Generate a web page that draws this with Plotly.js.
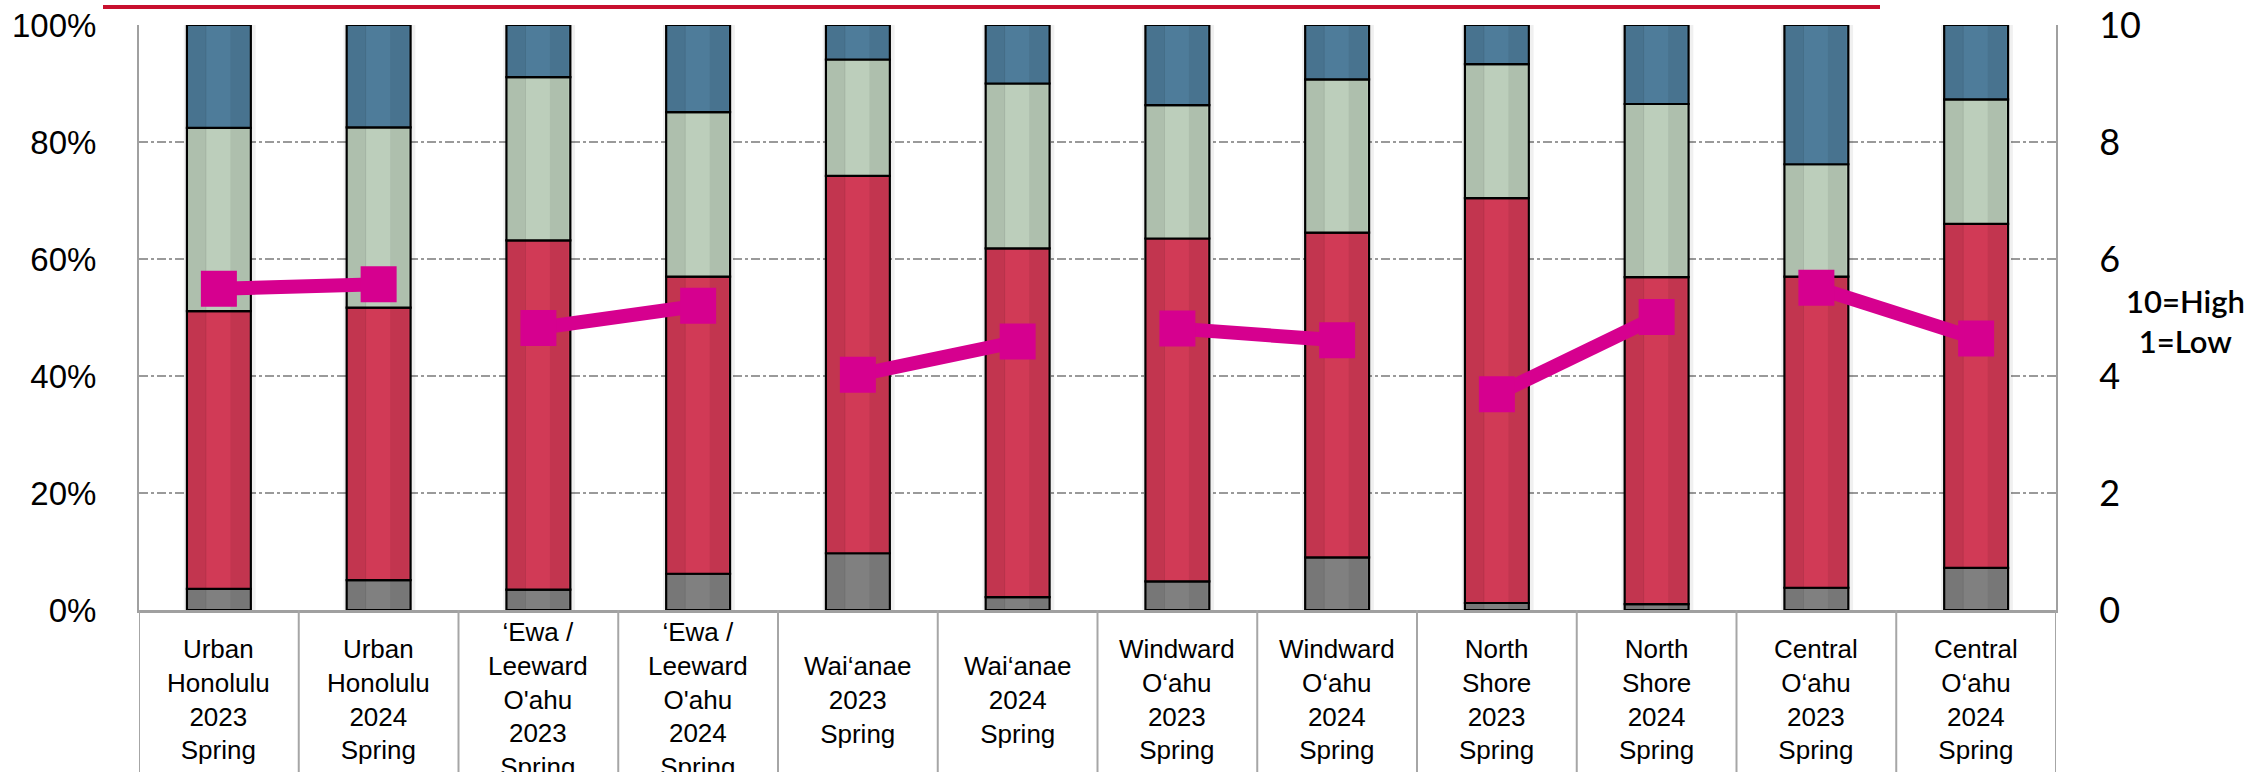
<!DOCTYPE html>
<html>
<head>
<meta charset="utf-8">
<script src="https://cdn.plot.ly/plotly-3.0.1.min.js"></script>
<style>html,body{margin:0;padding:0;background:#fff;}#chart{width:2248px;height:772px;}</style>
</head>
<body>
<div id="chart"></div>
<script>
// Categories (x)
const categories = [
  "Urban<br>Honolulu<br>2023<br>Spring",
  "Urban<br>Honolulu<br>2024<br>Spring",
  "‘Ewa /<br>Leeward<br>O'ahu<br>2023<br>Spring",
  "‘Ewa /<br>Leeward<br>O'ahu<br>2024<br>Spring",
  "Wai‘anae<br>2023<br>Spring",
  "Wai‘anae<br>2024<br>Spring",
  "Windward<br>O‘ahu<br>2023<br>Spring",
  "Windward<br>O‘ahu<br>2024<br>Spring",
  "North<br>Shore<br>2023<br>Spring",
  "North<br>Shore<br>2024<br>Spring",
  "Central<br>O‘ahu<br>2023<br>Spring",
  "Central<br>O‘ahu<br>2024<br>Spring"
];

// Stacked shares (fractions), bottom to top
const grayShare  = [0.036, 0.051, 0.035, 0.062, 0.097, 0.022, 0.049, 0.090, 0.012, 0.010, 0.038, 0.072];
const redShare   = [0.475, 0.466, 0.597, 0.508, 0.645, 0.596, 0.586, 0.555, 0.692, 0.559, 0.532, 0.588];
const greenShare = [0.313, 0.308, 0.279, 0.281, 0.199, 0.282, 0.228, 0.262, 0.229, 0.296, 0.192, 0.213];
const blueShare  = [0.176, 0.175, 0.089, 0.149, 0.059, 0.100, 0.137, 0.093, 0.067, 0.135, 0.238, 0.127];

// Average score (right axis, 10=High, 1=Low)
const scoreValues = [5.49, 5.57, 4.82, 5.20, 4.02, 4.59, 4.81, 4.61, 3.69, 5.01, 5.51, 4.64];

const leftTicks = [0, 0.2, 0.4, 0.6, 0.8, 1.0];
const rightTicks = [0, 2, 4, 6, 8, 10];

const idx = categories.map((_, i) => i);
const series = [
  {vals: grayShare, color: '#808080'},
  {vals: redShare, color: '#d13a56'},
  {vals: greenShare, color: '#bccebb'},
  {vals: blueShare, color: '#4e7c9a'}
];

const BW = 0.4; // bar width in category units
const totals = idx.map(i => series.reduce((s, r) => s + r.vals[i], 0));

const traces = [];
// soft shadow behind bars
traces.push({
  type: 'bar', x: idx, y: totals, base: 0, width: BW + 0.05, offset: -BW / 2 - 0.02,
  marker: {color: 'rgba(0,0,0,0.06)', line: {width: 0}}, hoverinfo: 'skip', showlegend: false
});
// stacked segments (manual bases, overlay mode)
let cum = idx.map(() => 0);
series.forEach(s => {
  traces.push({
    type: 'bar', x: idx, y: s.vals, base: cum.slice(), width: BW, offset: -BW / 2,
    marker: {color: s.color, line: {color: '#000000', width: 2.2}},
    hoverinfo: 'skip', showlegend: false
  });
  cum = cum.map((c, i) => c + s.vals[i]);
});
// subtle vertical shading bands on each bar
[[0.02, 0.28, 'rgba(0,0,0,0.07)'], [0.29, 0.015, 'rgba(0,0,0,0.08)'], [0.68, 0.29, 'rgba(0,0,0,0.07)']].forEach(b => {
  traces.push({
    type: 'bar', x: idx, y: totals, base: 0, width: BW * b[1], offset: -BW / 2 + BW * b[0],
    marker: {color: b[2], line: {width: 0}}, hoverinfo: 'skip', showlegend: false
  });
});

// Score line: connect each 2023/2024 pair
for (let i = 0; i < scoreValues.length; i += 2) {
  traces.push({
    type: 'scatter', mode: 'lines+markers',
    x: idx.slice(i, i + 2), y: scoreValues.slice(i, i + 2),
    yaxis: 'y2',
    line: {color: '#d6008f', width: 14},
    marker: {symbol: 'square', size: 36, color: '#d6008f'},
    hoverinfo: 'skip', showlegend: false, cliponaxis: false
  });
}

const plotLeft = 139, plotRight = 2056, plotTop = 25, plotBottom = 610;
const pw = plotRight - plotLeft, ph = plotBottom - plotTop;

const annotations = categories.map((c, i) => ({
  x: i, xref: 'x', y: -0.153, yref: 'paper',
  text: c, showarrow: false, xanchor: 'center', yanchor: 'middle', align: 'center',
  font: {family: 'Liberation Sans, Arial, sans-serif', size: 26, color: '#000'}
}));
annotations.push({
  x: (2185 - plotLeft) / pw, xref: 'paper', y: (plotBottom - 321) / ph, yref: 'paper',
  text: '10=High<br>1=Low', showarrow: false, xanchor: 'center', yanchor: 'middle', align: 'center',
  font: {family: 'Lato, sans-serif', size: 31, color: '#000', weight: 600}
});

const shapes = [];
for (let k = 0; k <= categories.length; k++) {
  shapes.push({
    type: 'line', xref: 'x', yref: 'paper', x0: k - 0.5, x1: k - 0.5, y0: -0.4, y1: 0,
    line: {color: '#a6a6a6', width: 2}, layer: 'above'
  });
}
// decorative red rule at top
shapes.push({
  type: 'line', xref: 'paper', yref: 'paper',
  x0: (103 - plotLeft) / pw, x1: (1880 - plotLeft) / pw,
  y0: (plotBottom - 7) / ph, y1: (plotBottom - 7) / ph,
  line: {color: '#c8102e', width: 4}
});

const layout = {
  width: 2248, height: 772,
  margin: {l: plotLeft, r: 2248 - plotRight, t: plotTop, b: 772 - plotBottom, pad: 0},
  paper_bgcolor: '#ffffff', plot_bgcolor: '#ffffff',
  barmode: 'overlay',
  showlegend: false,
  xaxis: {
    type: 'linear', range: [-0.5, categories.length - 0.5],
    showticklabels: false, ticks: '', showgrid: false, zeroline: false,
    showline: true, linecolor: '#a0a0a0', linewidth: 3, fixedrange: true
  },
  yaxis: {
    range: [0, 1], tickvals: leftTicks, tickformat: '.0%',
    showgrid: true, gridcolor: '#9a9a9a', gridwidth: 2, griddash: 'dashdot',
    zeroline: false, showline: true, linecolor: '#a0a0a0', linewidth: 2,
    ticks: '', ticklabelstandoff: 34,
    tickfont: {family: 'Liberation Sans, Arial, sans-serif', size: 33, color: '#000'}
  },
  yaxis2: {
    range: [0, 10], tickvals: rightTicks, overlaying: 'y', side: 'right',
    showgrid: false, zeroline: false, showline: true, linecolor: '#a0a0a0', linewidth: 2,
    ticks: '', ticklabelstandoff: 34,
    tickfont: {family: 'Lato, sans-serif', size: 36, color: '#000'}
  },
  annotations: annotations,
  shapes: shapes
};

Plotly.newPlot('chart', traces, layout, {staticPlot: true, displayModeBar: false});
</script>
</body>
</html>
